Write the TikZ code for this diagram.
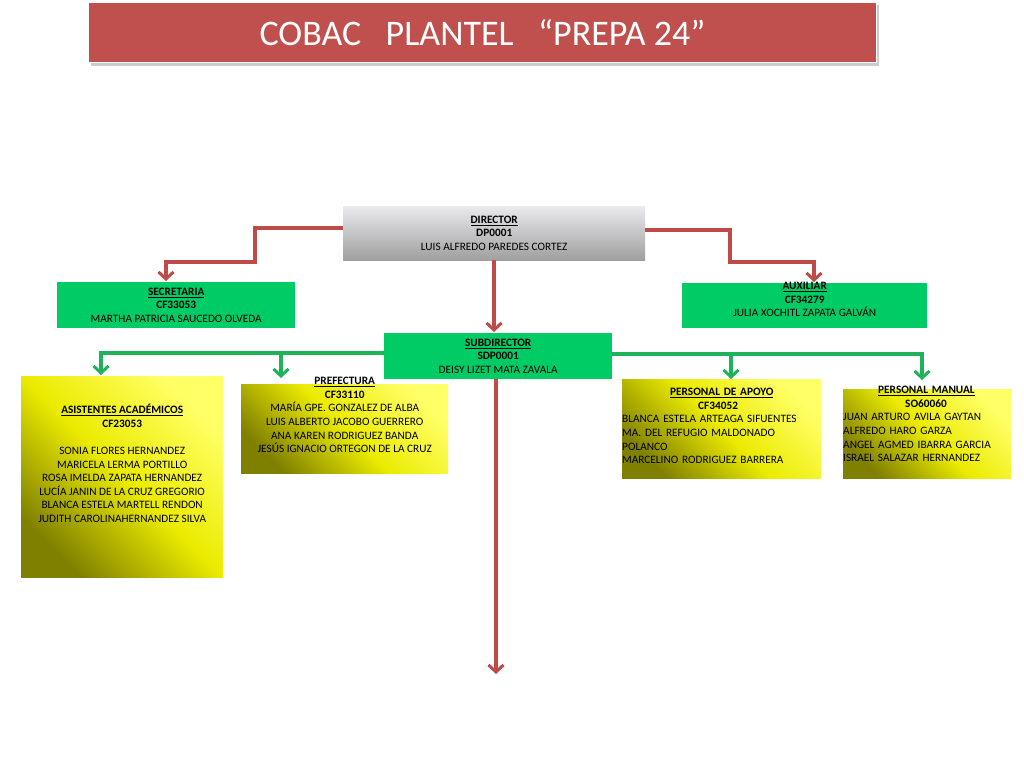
\documentclass[tikz,border=0pt]{standalone}
\usepackage{fontspec}
\setmainfont{Carlito}
\usetikzlibrary{arrows.meta}
\definecolor{tred}{HTML}{C0504D}
\definecolor{lred}{HTML}{BE4B48}
\definecolor{gbox}{HTML}{00CC66}
\definecolor{garr}{HTML}{1FB25A}
\begin{document}
\begin{tikzpicture}[x=1pt,y=-1pt,
  box/.style={inner sep=0pt,font=\fontsize{11.3}{13.6}\selectfont,align=center},
  green box/.style={fill=gbox},
  yel/.style={left color=yellow!50!black,right color=yellow!60,middle color=yellow!92!black,shading angle=135},
  rarr/.style={draw=lred,line width=3.5pt,-{Straight Barb[length=7pt,width=15pt,line width=3pt]}},
  garrow/.style={draw=garr,line width=3.5pt,-{Straight Barb[length=7pt,width=15pt,line width=3pt]}}]
\useasboundingbox (0,0) rectangle (1024,768);
% title
\fill[gray!40] (91,5) rectangle (879,66);
\node[fill=tred,draw=white,line width=1pt,minimum width=788pt,minimum height=60pt,anchor=north west,inner sep=0pt,text=white,font=\fontsize{36}{40}\selectfont] (title) at (88,2) {COBAC\ \ \ PLANTEL\ \ \ “PREPA 24”};
% boxes
\shade[top color=blue!8!gray!15,bottom color=gray!75] (343,206) rectangle (645,260);
\node[box,minimum width=302pt,minimum height=54pt,anchor=north west] (dir) at (343,206) {\underline{\textbf{DIRECTOR}}\\\textbf{DP0001}\\LUIS ALFREDO PAREDES CORTEZ};
\node[box,green box,minimum width=238pt,minimum height=46pt,anchor=north west] (sec) at (57,282) {\underline{\textbf{SECRETARIA}}\\\textbf{CF33053}\\MARTHA PATRICIA SAUCEDO OLVEDA};
\fill[gbox] (682,283) rectangle (927,328);
\node[box,minimum width=245pt,anchor=north west] (aux) at (682,282) {\underline{\textbf{AUXILIAR}}\\\textbf{CF34279}\\JULIA XOCHITL ZAPATA GALVÁN};
\node[box,green box,minimum width=228pt,minimum height=46pt,anchor=north west] (sub) at (384,333) {\underline{\textbf{SUBDIRECTOR}}\\\textbf{SDP0001}\\DEISY LIZET MATA ZAVALA};
\shade[yel] (21,376) rectangle (223,577);
\node[box,minimum width=202pt,anchor=north west] (asi) at (21,404) {\underline{\textbf{ASISTENTES ACADÉMICOS}}\\\textbf{CF23053}\\[13.6pt]SONIA FLORES HERNANDEZ\\MARICELA LERMA PORTILLO\\ROSA IMELDA ZAPATA HERNANDEZ\\LUCÍA JANIN DE LA CRUZ GREGORIO\\BLANCA ESTELA MARTELL RENDON\\JUDITH CAROLINAHERNANDEZ SILVA};
\shade[yel] (241,384) rectangle (448,473);
\node[box,minimum width=207pt,anchor=north west] (pre) at (241,377) {\underline{\textbf{PREFECTURA}}\\\textbf{CF33110}\\MARÍA GPE. GONZALEZ DE ALBA\\LUIS ALBERTO JACOBO GUERRERO\\ANA KAREN RODRIGUEZ BANDA\\JESÚS IGNACIO ORTEGON DE LA CRUZ};
\shade[yel] (622,379) rectangle (821,478);
\node[box,text width=199pt,anchor=north west,align=left] (apo) at (622,388) {\hspace*{48pt}\underline{\textbf{PERSONAL DE APOYO}}\\\hspace*{76pt}\textbf{CF34052}\\BLANCA ESTELA ARTEAGA SIFUENTES\\MA. DEL REFUGIO MALDONADO POLANCO\\MARCELINO RODRIGUEZ BARRERA};
\shade[yel] (843,389) rectangle (1011,478);
\node[box,text width=168pt,anchor=north west,align=left] (man) at (843,386) {\hspace*{35pt}\underline{\textbf{PERSONAL MANUAL}}\\\hspace*{62pt}\textbf{SO60060}\\JUAN ARTURO AVILA GAYTAN\\ALFREDO HARO GARZA\\ANGEL AGMED IBARRA GARCIA\\ISRAEL SALAZAR HERNANDEZ};
% red connectors
\coordinate (endsub) at (496,674);
\draw[rarr] (dir.west|-0,228) -- (255,228) -- (255,262) -- (166,262) -- (166,281);
\draw[rarr] (dir.east|-0,230) -- (730,230) -- (730,262) -- (814,262) -- (814,282);
\draw[rarr] (dir.south-|494,0) -- (494,332);
\draw[rarr] (sub.south-|496,0) -- (endsub);
% green connectors
\draw[garrow] (sub.west|-0,353) -- (101,353) -- (101,375);
\draw[garrow] (281,353) -- (281,378);
\draw[garrow] (sub.east|-0,354) -- (922,354) -- (922,380);
\draw[garrow] (731,354) -- (731,379);
\end{tikzpicture}
\end{document}
